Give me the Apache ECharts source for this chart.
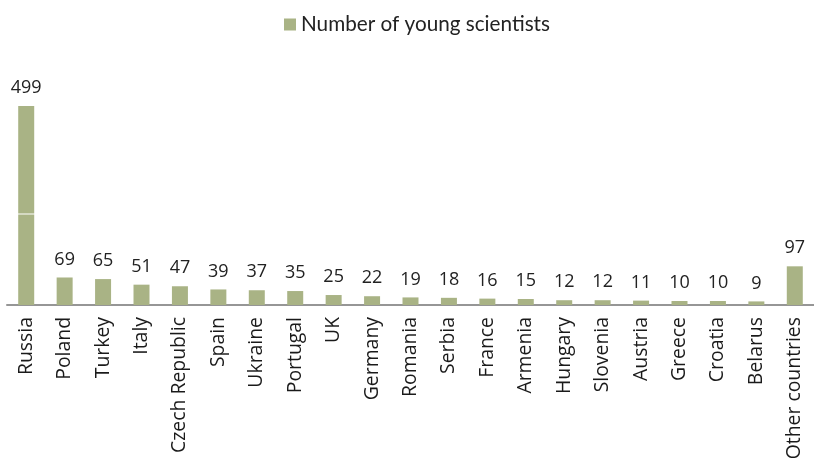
<!DOCTYPE html>
<html>
<head>
<meta charset="utf-8">
<script src="https://cdn.jsdelivr.net/npm/echarts@6/dist/echarts.min.js"></script>
<style>
  html, body { margin: 0; padding: 0; background: #fff; }
  #chart { width: 814px; height: 466px; }
</style>
</head>
<body>
<div id="chart"></div>
<script>
  // countries and counts
  var countries = ['Russia', 'Poland', 'Turkey', 'Italy', 'Czech Republic', 'Spain', 'Ukraine',
    'Portugal', 'UK', 'Germany', 'Romania', 'Serbia', 'France', 'Armenia', 'Hungary',
    'Slovenia', 'Austria', 'Greece', 'Croatia', 'Belarus', 'Other countries']
  var scientists = [499, 69, 65, 51, 47, 39, 37, 35, 25, 22, 19, 18, 16, 15, 12, 12, 11, 10, 10, 9, 97]
  var seriesName = 'Number of young scientists'

  var chart = echarts.init(document.getElementById('chart'), null, { renderer: 'canvas' })
  chart.setOption({
    animation: false,
    legend: {
      data: [seriesName],
      top: 9,
      left: 279,
      icon: 'rect',
      itemWidth: 12,
      itemHeight: 12,
      itemGap: 4,
      textStyle: {
        fontFamily: 'Lato, sans-serif',
        fontSize: 20.7,
        color: '#222'
      }
    },
    grid: {
      top: 106,
      left: 7,
      right: -8,
      bottom: 161,
      containLabel: false
    },
    xAxis: {
      type: 'category',
      data: countries,
      axisLine: { lineStyle: { color: '#969696', width: 2 } },
      axisTick: { show: false },
      axisLabel: {
        rotate: 90,
        interval: 0,
        margin: 12,
        color: '#1a1a1a',
        fontFamily: '"Open Sans", sans-serif',
        fontSize: 19.4
      }
    },
    yAxis: {
      type: 'value',
      min: 0,
      max: 'dataMax',
      show: true,
      axisLine: { show: false },
      axisTick: { show: false },
      axisLabel: { show: false },
      splitLine: { show: false },
      // thin white cut across the tall bar
      breaks: [{ start: 228, end: 230, gap: 2 }],
      breakArea: {
        show: true,
        zigzagAmplitude: 0,
        itemStyle: { color: '#ffffff', borderColor: '#ffffff', borderWidth: 0, opacity: 1 }
      }
    },
    series: [{
      type: 'bar',
      name: seriesName,
      data: scientists,
      barWidth: 16,
      itemStyle: { color: '#a9b385' },
      label: {
        show: true,
        position: 'top',
        distance: 9,
        color: '#222',
        fontFamily: '"Open Sans", sans-serif',
        fontSize: 18
      }
    }]
  })
</script>
</body>
</html>
